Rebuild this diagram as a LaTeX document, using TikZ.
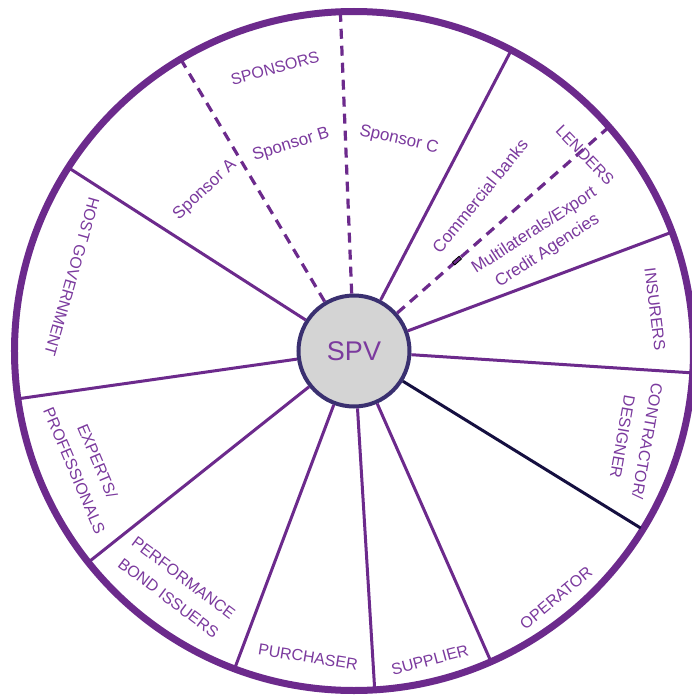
\documentclass[tikz,border=0pt]{standalone}
\usepackage{fontspec}
\setmainfont{Liberation Sans}
\definecolor{ringc}{HTML}{6C2A8C}
\definecolor{txtc}{HTML}{7B3A9E}
\definecolor{navy}{HTML}{3A3070}
\definecolor{darkl}{HTML}{150F40}
\definecolor{spvfill}{HTML}{D4D4D4}
\tikzset{
  lbl/.style={text=txtc, font=\fontsize{16}{25}\selectfont, align=center, inner sep=0pt},
  lblm/.style={lbl, font=\fontsize{17}{24}\selectfont},
  spoke/.style={draw=ringc, line width=3pt},
  dspoke/.style={draw=ringc, line width=3.2pt, dash pattern=on 10pt off 7pt},
  darkspoke/.style={draw=darkl, line width=3pt},
}
\begin{document}
\begin{tikzpicture}[x=1pt,y=1pt]
\useasboundingbox (-354,-346) rectangle (338,351);
\clip (-354,-346) rectangle (338,351);
\fill[white] (-354,-346) rectangle (338,351);
% outer ring
\node[circle, draw=ringc, line width=7pt, minimum size=679pt, inner sep=0pt, outer sep=0pt] (ring) at (0,0) {};
% centre
\node[circle, draw=navy, fill=spvfill, line width=4pt, minimum size=111pt, inner sep=0pt, outer sep=2pt,
      text=txtc, font=\fontsize{27}{30}\selectfont] (spv) at (0,0) {SPV};
% outer ends of spokes
\coordinate (oA) at (120.7:338);
\coordinate (oB) at (92.3:338);
\coordinate (oC) at (62.4:338);
\coordinate (oD) at (41.3:338);
\coordinate (oE) at (20.5:338);
\coordinate (oF) at (-3.7:338);
\coordinate (oG) at (-31.7:337);
\coordinate (oH) at (-66.2:338);
\coordinate (oI) at (-86.5:338);
\coordinate (oJ) at (-110.6:338);
\coordinate (oK) at (218.5:338);
\coordinate (oL) at (188.1:338);
\coordinate (oM) at (147.3:338);
% spokes
\draw[dspoke] (spv) -- (oA);
\draw[dspoke] (spv) -- (oB);
\draw[spoke] (spv) -- (oC);
\draw[dspoke] (spv) -- (oD);
\draw[spoke] (spv) -- (oE);
\draw[spoke] (spv) -- (oF);
\draw[darkspoke] (spv) -- (oG);
\draw[spoke] (spv) -- (oH);
\draw[spoke] (spv) -- (oI);
\draw[spoke] (spv) -- (oJ);
\draw[spoke] (spv) -- (oK);
\draw[spoke] (spv) -- (oL);
\draw[spoke] (spv) -- (oM);
% small marked dash on the lenders line
\node[draw=black, fill=ringc, line width=0.8pt, minimum width=9pt, minimum height=3.6pt,
      inner sep=0pt, rotate=41.3] (glitch) at (41.3:137) {};
% labels
\node[lbl, rotate=15] (sponsors) at (-79,283) {SPONSORS};
\node[lblm, rotate=43] (spa) at (-149,161) {Sponsor A};
\node[lblm, rotate=17] (spb) at (-63,206) {Sponsor B};
\node[lblm, rotate=-13] (spc) at (45,211) {Sponsor C};
\node[lblm, rotate=51] (banks) at (126,155) {Commercial banks};
\node[lbl, rotate=-46] (lenders) at (231,196) {LENDERS};
\node[lblm, rotate=33] (multi) at (187,110) {Multilaterals/Export\\Credit Agencies};
\node[lbl, rotate=-83] (insurers) at (301,42) {INSURERS};
\node[lbl, rotate=-100] (contractor) at (281,-88) {CONTRACTOR/\\DESIGNER};
\node[lbl, rotate=40] (operator) at (202,-247) {OPERATOR};
\node[lbl, rotate=15] (supplier) at (76,-309) {SUPPLIER};
\node[lbl, rotate=-9] (purchaser) at (-46,-306) {PURCHASER};
\node[lbl, rotate=-37] (perf) at (-178,-237) {PERFORMANCE\\BOND ISSUERS};
\node[lbl, rotate=-67] (experts) at (-268,-115) {EXPERTS/\\PROFESSIONALS};
\node[lbl, rotate=-106] (host) at (-282,74) {HOST GOVERNMENT};
\end{tikzpicture}
\end{document}
